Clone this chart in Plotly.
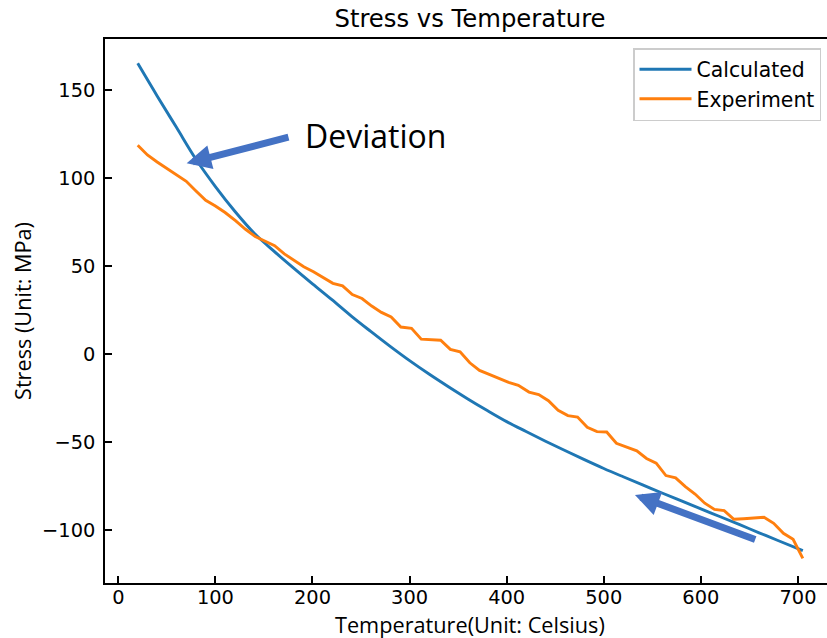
import plotly.graph_objects as go

# ---- data ----
calc_temp = [20, 40, 60, 80, 100, 120, 140, 160, 180, 200, 220, 240, 260, 280, 300,
             320, 340, 360, 380, 400, 420, 440, 460, 480, 500, 520, 540, 560, 580,
             600, 620, 640, 660, 680, 705]
calc_stress = [165, 146.5, 128.5, 110.5, 95, 81, 68.5, 58.5, 49, 39.8, 30.8, 21.5, 12.8,
               4.3, -3.8, -11.4, -18.6, -25.5, -32.1, -38.4, -44, -49.5, -54.8, -60,
               -65, -69.7, -74.3, -78.9, -83.4, -87.9, -92.4, -96.9, -101.5, -106, -111.6]

exp_temp = [20, 30, 40, 50, 60, 70, 80, 90, 100, 110, 121, 131, 141, 151, 161, 171, 181,
            191, 201, 211, 221, 231, 241, 251, 261, 271, 281, 291, 302, 312, 322, 332,
            342, 352, 362, 372, 382, 392, 402, 412, 423, 433, 443, 453, 463, 473, 483,
            493, 503, 513, 523, 534, 544, 554, 564, 574, 584, 594, 604, 614, 624, 634,
            644, 655, 665, 675, 685, 695, 705]
exp_stress = [118.5, 113, 109, 105.3, 101.6, 98, 92.5, 87.2, 84, 80.3, 75.5, 70.8, 66.7,
              64.2, 61.5, 56.8, 53, 49.5, 46.7, 43.5, 40.1, 38.7, 33.7, 31.5, 27.2, 23.6,
              21, 15.3, 14.6, 8.4, 8.3, 7.8, 2.6, 1.2, -5, -9.3, -11.6, -13.9, -16.1,
              -17.8, -21.6, -23, -26.5, -32, -35, -35.8, -41.6, -44.1, -44.3, -50.7,
              -52.6, -55, -59.3, -62, -69, -70.3, -75.3, -79.5, -84.7, -88.2, -88.9,
              -93.8, -93.5, -93.1, -92.7, -96.1, -101.8, -105.2, -116]

x_ticks = [0, 100, 200, 300, 400, 500, 600, 700]
y_ticks = [-100, -50, 0, 50, 100, 150]

TICK_FONT = dict(family="DejaVu Sans", size=19.4, color="black")
LEGEND_FONT = dict(family="DejaVu Sans", size=20.4, color="black")
LABEL_FONT = dict(family="Open Sans", size=21.7, color="black")
ARROW_COLOR = "#4472C4"

fig = go.Figure()
fig.add_trace(go.Scatter(x=calc_temp, y=calc_stress, mode="lines", name="Calculated",
                         line=dict(color="#1f77b4", width=2.9), line_shape="spline"))
fig.add_trace(go.Scatter(x=exp_temp, y=exp_stress, mode="lines", name="Experiment",
                         line=dict(color="#ff7f0e", width=2.9)))

# arrows
fig.add_annotation(x=70.4, y=108.2, ax=176.8, ay=123.3, xref="x", yref="y",
                   axref="x", ayref="y", text="", showarrow=True, arrowhead=2,
                   arrowsize=0.7, arrowwidth=7, arrowcolor=ARROW_COLOR)
fig.add_annotation(x=532.1, y=-80.0, ax=657.5, ay=-105.6, xref="x", yref="y",
                   axref="x", ayref="y", text="", showarrow=True, arrowhead=2,
                   arrowsize=0.7, arrowwidth=7, arrowcolor=ARROW_COLOR)
fig.add_annotation(x=190.5, y=124.3, xref="x", yref="y", text="Deviation",
                   showarrow=False, xanchor="left", yanchor="middle",
                   font=dict(family="Open Sans", size=32, color="black"))

# axis titles
fig.add_annotation(x=(469.5 - 105) / 722, y=(583 - 624) / 544, xref="paper", yref="paper",
                   text="Temperature(Unit: Celsius)", showarrow=False,
                   xanchor="center", yanchor="middle", font=LABEL_FONT)
fig.add_annotation(x=(22 - 105) / 722, y=0.5, xref="paper", yref="paper",
                   text="Stress (Unit: MPa)", showarrow=False, textangle=-90,
                   xanchor="center", yanchor="middle", font=LABEL_FONT)

fig.update_layout(
    width=827, height=638,
    margin=dict(l=105, r=0, t=39, b=55, autoexpand=False),
    paper_bgcolor="white", plot_bgcolor="white",
    title=dict(text="Stress vs Temperature", x=470 / 827, xanchor="center",
               xref="container", yref="container", y=1 - 18 / 638, yanchor="middle",
               font=dict(family="DejaVu Sans", size=24.3, color="black")),
    legend=dict(x=(633 - 105) / 722, y=(583 - 48) / 544, xanchor="left", yanchor="top",
                bgcolor="white", bordercolor="#cccccc", borderwidth=1.5,
                font=LEGEND_FONT, itemwidth=52, tracegroupgap=0),
    showlegend=True,
)
fig.update_xaxes(range=[-13.7, 729.9], tickvals=x_ticks, ticks="inside", ticklen=7,
                 tickwidth=1.6, tickcolor="black", showline=True, linecolor="black",
                 linewidth=1.6, mirror=True, showgrid=False, zeroline=False,
                 tickfont=TICK_FONT, ticklabelstandoff=-4, automargin=False)
fig.update_yaxes(range=[-130, 178.8], tickvals=y_ticks, ticks="inside", ticklen=7,
                 tickwidth=1.6, tickcolor="black", showline=True, linecolor="black",
                 linewidth=1.6, showgrid=False, zeroline=False,
                 tickfont=TICK_FONT, ticklabelstandoff=4, automargin=False)

fig.write_html("out.html", config={"displayModeBar": False},
               post_script="document.body.style.margin='0';document.body.style.overflow='hidden';")
